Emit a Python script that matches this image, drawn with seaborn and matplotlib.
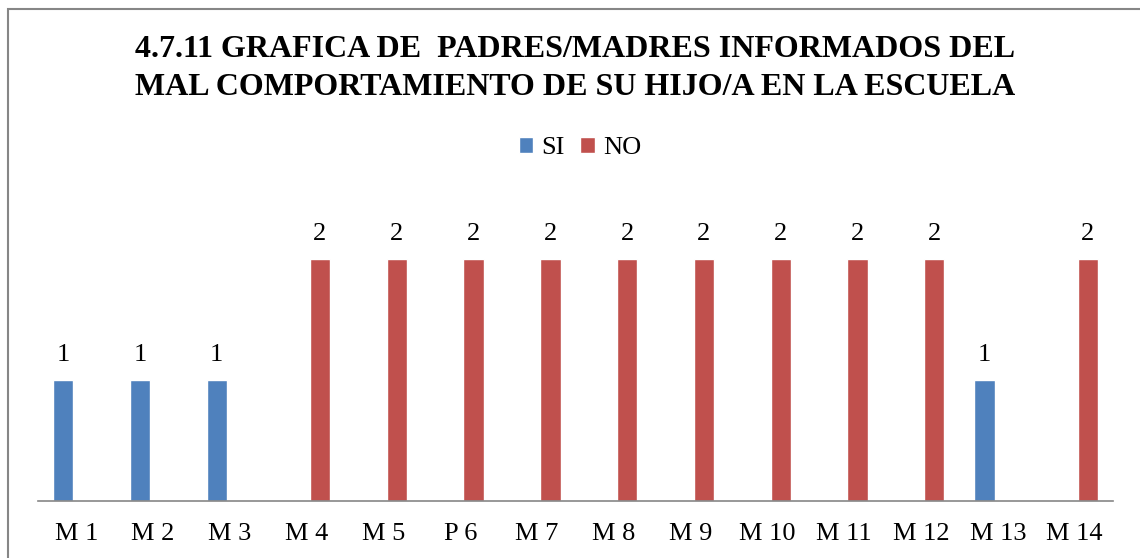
import pandas as pd
import matplotlib.pyplot as plt
import matplotlib.patches as patches
import seaborn as sns

# datos
categorias = ['M 1', 'M 2', 'M 3', 'M 4', 'M 5', 'P 6', 'M 7', 'M 8', 'M 9',
              'M 10', 'M 11', 'M 12', 'M 13', 'M 14']
si = [1, 1, 1, None, None, None, None, None, None, None, None, None, 1, None]
no = [None, None, None, 2, 2, 2, 2, 2, 2, 2, 2, 2, None, 2]
series = ['SI', 'NO']
colores = ['#4F81BD', '#C0504D']

filas = []
for cat, s, n in zip(categorias, si, no):
    if s is not None:
        filas.append({'cat': cat, 'serie': 'SI', 'valor': s})
    if n is not None:
        filas.append({'cat': cat, 'serie': 'NO', 'valor': n})
df = pd.DataFrame(filas)

sns.set_style('white')
plt.rcParams['font.family'] = ['Liberation Serif', 'DejaVu Serif']
plt.rcParams['text.color'] = 'black'
plt.rcParams['xtick.color'] = 'black'

W, H = 1140, 558
fig = plt.figure(figsize=(W / 100, H / 100), dpi=100)
ax = fig.add_axes([38 / W, 1 - 501 / H, (1113 - 38) / W, (501 - 198.5) / H])

sns.barplot(data=df, x='cat', y='valor', hue='serie', order=categorias,
            hue_order=series, palette=colores, width=0.69, gap=0.23,
            dodge=True, saturation=1, ax=ax, legend=True)

ax.set_ylim(0, 2.5)
ax.set_xlim(-0.5, len(categorias) - 0.5)
for c in ax.containers:
    ax.bar_label(c, fmt='%d', padding=10, fontsize=19, color='black')

ax.set_xlabel('')
ax.set_ylabel('')
ax.set_yticks([])
ax.tick_params(axis='x', length=0, pad=16, labelsize=19, labelcolor='black')
for s in ['left', 'right', 'top']:
    ax.spines[s].set_visible(False)
ax.spines['bottom'].set_color('#868686')
ax.spines['bottom'].set_linewidth(1.2)

leg = ax.legend(loc='center', bbox_to_anchor=(580 / W, 1 - 148 / H),
                bbox_transform=fig.transFigure, ncol=2, frameon=False,
                fontsize=19, handlelength=0.55, handleheight=0.55,
                handletextpad=0.3, columnspacing=0.6)
for t in leg.get_texts():
    t.set_color('black')

fig.text(575 / W, 1 - 68.5 / H,
         '4.7.11 GRAFICA DE  PADRES/MADRES INFORMADOS DEL\nMAL COMPORTAMIENTO DE SU HIJO/A EN LA ESCUELA',
         ha='center', va='center', fontsize=23, fontweight='bold', linespacing=1.38,
         color='black')

# borde del area del grafico
fig.add_artist(patches.Rectangle((8 / W, -0.1), 1.2, 1.1 - 9 / H,
                                 transform=fig.transFigure, fill=False,
                                 edgecolor='#868686', linewidth=1.5))

fig.savefig('out.png', dpi=100)
